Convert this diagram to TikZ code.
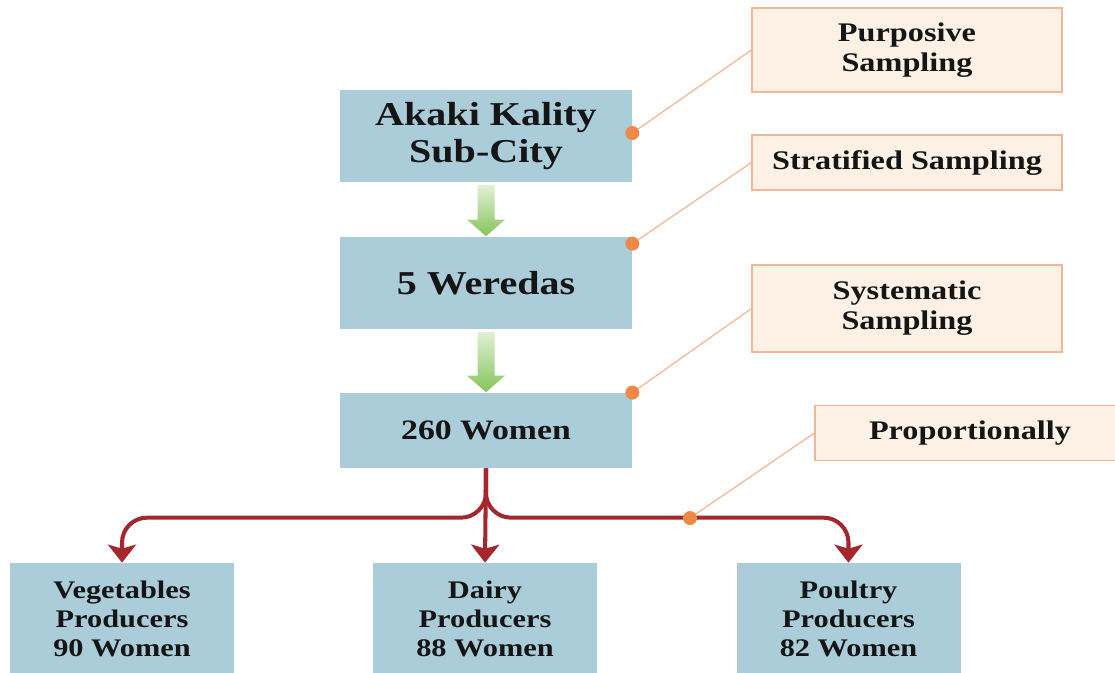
\documentclass[tikz,border=0pt]{standalone}
\usepackage{fontspec}
\setmainfont{Liberation Serif}[FakeStretch=1.2]
\usepackage{xcolor}
\usepackage{tikz}
\usetikzlibrary{calc,arrows.meta}
\definecolor{ink}{HTML}{151515}
\definecolor{bluebox}{HTML}{AACDD9}
\definecolor{peach}{HTML}{FDF1E5}
\definecolor{peachline}{HTML}{F2B595}
\definecolor{dotorange}{HTML}{F08848}
\definecolor{darkred}{HTML}{A6262E}
\definecolor{grn}{HTML}{86C45A}
\tikzset{
  box/.style={fill=bluebox, draw=none, text=ink, align=center, inner sep=0pt,
    minimum width=5.84cm, font=\bfseries\fontsize{19}{21.5}\selectfont},
  leaf/.style={box, minimum width=4.48cm, minimum height=2.24cm,
    font=\bfseries\fontsize{14.4}{16.4}\selectfont},
  method/.style={fill=peach, draw=peachline, line width=0.6pt, text=ink, align=center,
    minimum width=6.2cm, inner sep=0pt, font=\bfseries\fontsize{15.3}{17}\selectfont},
  dot/.style={circle, fill=dotorange, draw=none, inner sep=0pt, minimum size=0.28cm},
  callout/.style={draw=peachline, line width=0.7pt},
  redarr/.style={draw=darkred, line width=2.3pt, rounded corners=0.5cm,
    -{Stealth[length=0.36cm, width=0.56cm, inset=0.08cm]}},
  garrow/.style={top color=grn!25, bottom color=grn, draw=none},
}
\begin{document}
\begin{tikzpicture}
  \useasboundingbox (0,0) rectangle (22.3,-13.44);

  \node[box, minimum height=1.84cm] (akaki) at (9.72,-2.72) {Akaki Kality\\Sub-City};
  \node[box, minimum height=1.84cm] (wer) at (9.72,-5.66) {5 Weredas};
  \node[box, minimum height=1.5cm, font=\bfseries\fontsize{16}{18}\selectfont] (women) at (9.72,-8.61) {260 Women};

  \node[leaf] (veg) at (2.44,-12.38) {Vegetables\\Producers\\90 Women};
  \node[leaf] (dairy) at (9.70,-12.38) {Dairy\\Producers\\88 Women};
  \node[leaf] (poul) at (16.97,-12.38) {Poultry\\Producers\\82 Women};

  \node[method, minimum height=1.68cm] (purp) at (18.14,-1.0) {Purposive\\Sampling};
  \node[method, minimum height=1.1cm] (strat) at (18.14,-3.25) {Stratified Sampling};
  \node[method, minimum height=1.74cm] (syst) at (18.14,-6.17) {Systematic\\Sampling};
  \node[method, minimum height=1.1cm] (prop) at (19.4,-8.66) {Proportionally};

  \foreach \a/\b in {akaki/wer, wer/women}
    \shade[garrow] ($(\a.south)+(-0.17,-0.05)$) -- ($(\a.south)+(0.17,-0.05)$)
      -- ($(\b.north)+(0.17,0.34)$) -- ($(\b.north)+(0.38,0.34)$) -- ($(\b.north)+(0,0.01)$)
      -- ($(\b.north)+(-0.38,0.34)$) -- ($(\b.north)+(-0.17,0.34)$) -- cycle;

  \draw[redarr] (women.south) -- (dairy.north);
  \draw[redarr] (women.south) |- ([yshift=0.9cm]veg.north) -- (veg.north);
  \draw[redarr] (women.south) |- ([yshift=0.9cm]poul.north) -- (poul.north);

  \coordinate (split) at (13.8,-10.36);
  \node[dot] (d1) at ([yshift=0.06cm]akaki.east) {};
  \node[dot] (d2) at ([yshift=-0.14cm]wer.north east) {};
  \node[dot] (d3) at (women.north east) {};
  \node[dot] (d4) at (split) {};
  \draw[callout] (d1) -- (purp.west);
  \draw[callout] (d2) -- (strat.west);
  \draw[callout] (d3) -- (syst.west);
  \draw[callout] (d4) -- (prop.west);
\end{tikzpicture}
\end{document}
